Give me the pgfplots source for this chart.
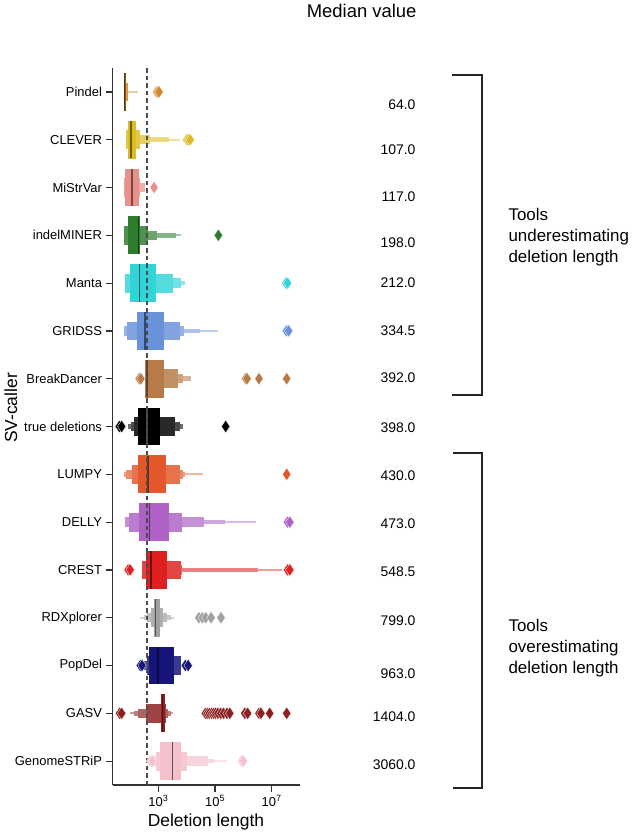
\documentclass[border=0pt]{standalone}
\usepackage{pgfplots}
\pgfplotsset{compat=1.18}
\usepackage{fontspec}
\setmainfont{Liberation Sans}

\definecolor{cPin}{HTML}{D4862A}
\definecolor{cCle}{HTML}{DDBB22}
\definecolor{cMiS}{HTML}{E8918A}
\definecolor{cInd}{HTML}{2E7D2E}
\definecolor{cMan}{HTML}{33D4D8}
\definecolor{cGri}{HTML}{6A92DA}
\definecolor{cBre}{HTML}{B87B48}
\definecolor{cTru}{HTML}{000000}
\definecolor{cLum}{HTML}{E2582A}
\definecolor{cDel}{HTML}{AE62C6}
\definecolor{cCre}{HTML}{DE2020}
\definecolor{cRdx}{HTML}{A0A0A0}
\definecolor{cPop}{HTML}{15157A}
\definecolor{cGas}{HTML}{8C2020}
\definecolor{cGen}{HTML}{F4C0CB}

% letter-value boxes: row, low, high, colour
\newcommand{\LA}[4]{\addplot[line cap=butt,line width=37.7bp,color=#4] coordinates {(#2,#1) (#3,#1)};}
\newcommand{\LB}[4]{\addplot[line cap=butt,line width=18.8bp,color=#4!84!white] coordinates {(#2,#1) (#3,#1)};}
\newcommand{\LC}[4]{\addplot[line cap=butt,line width=9.4bp,color=#4!70!white] coordinates {(#2,#1) (#3,#1)};}
\newcommand{\LD}[4]{\addplot[line cap=butt,line width=4.7bp,color=#4!57!white] coordinates {(#2,#1) (#3,#1)};}
\newcommand{\LE}[4]{\addplot[line cap=butt,line width=2.3bp,color=#4!44!white] coordinates {(#2,#1) (#3,#1)};}
% median line: value, y1, y2, colour
\newcommand{\MD}[4]{\addplot[line width=1.3bp,color=#4] coordinates {(#1,#2) (#1,#3)};}
% outliers: colour, coordinates
\newcommand{\OL}[2]{\addplot[only marks,mark=diamond*,mark size=6.3bp,mark options={xscale=0.9,fill=#1,draw=white,line width=0.3bp}] coordinates {#2};}

\begin{document}
\begin{tikzpicture}
\path (0bp,0bp) rectangle (633bp,839bp);
\begin{axis}[
  at={(112.5bp,54bp)}, anchor=south west, scale only axis,
  width=187.5bp, height=717bp,
  xmode=log, xmin=23.8, xmax=1e8,
  ymin=-0.5, ymax=14.5, y dir=reverse,
  axis lines*=left,
  axis line style={line width=1.5bp,color=black!80},
  xtick={1e3,1e5,1e7},
  xticklabels={10\textsuperscript{3},10\textsuperscript{5},10\textsuperscript{7}},
  xminorticks=false,
  ytick={0,...,14},
  yticklabels={Pindel,CLEVER,MiStrVar,indelMINER,Manta,GRIDSS,BreakDancer,true deletions,LUMPY,DELLY,CREST,RDXplorer,PopDel,GASV,GenomeSTRiP},
  tick align=outside, major tick length=7bp,
  tick style={line width=1.2bp,color=black!80},
  yticklabel style={font=\fontsize{13}{15}\selectfont},
  xticklabel style={font=\fontsize{13}{15}\selectfont},
  clip=false,
]
% Pindel
\LE{0}{58.9}{195}{cPin}
\LB{0}{58.9}{85.1}{cPin}
\LA{0}{58.9}{69.2}{cPin!65!black}
% CLEVER
\LE{1}{69.2}{5754}{cCle}
\LD{1}{69.2}{2344}{cCle}
\LC{1}{69.2}{513}{cCle}
\LB{1}{70.8}{214}{cCle}
\LA{1}{85.1}{155}{cCle}
% MiStrVar
\LC{2}{58.9}{339}{cMiS}
\LB{2}{58.9}{229}{cMiS}
\LA{2}{67.6}{200}{cMiS}
% indelMINER
\LE{3}{63.1}{6310}{cInd}
\LD{3}{63.1}{4169}{cInd}
\LC{3}{63.1}{871}{cInd}
\LB{3}{63.1}{417}{cInd}
\LA{3}{87.1}{225}{cInd}
% Manta
\LD{4}{66.1}{8710}{cMan}
\LC{4}{66.1}{6310}{cMan}
\LB{4}{66.1}{3388}{cMan}
\LA{4}{100}{805}{cMan}
% GRIDSS
\LE{5}{61.7}{1.23e5}{cGri}
\LD{5}{61.7}{29510}{cGri}
\LC{5}{61.7}{7834}{cGri}
\LB{5}{80.5}{5808}{cGri}
\LA{5}{172}{1622}{cGri}
% BreakDancer
\LD{6}{339}{14130}{cBre}
\LC{6}{339}{7079}{cBre}
\LB{6}{339}{5070}{cBre}
\LA{6}{339}{1549}{cBre}
% true deletions
\LD{7}{83.2}{7413}{cTru}
\LC{7}{107}{5754}{cTru}
\LB{7}{142}{3890}{cTru}
\LA{7}{197}{1148}{cTru}
% LUMPY
\LE{8}{58.9}{38900}{cLum}
\LD{8}{58.9}{8913}{cLum}
\LC{8}{72.4}{7244}{cLum}
\LB{8}{115}{5754}{cLum}
\LA{8}{197}{1820}{cLum}
% DELLY
\LE{9}{66.1}{2.69e6}{cDel}
\LD{9}{66.1}{2.24e5}{cDel}
\LC{9}{66.1}{41690}{cDel}
\LB{9}{92.3}{6607}{cDel}
\LA{9}{208}{2377}{cDel}
% CREST
\LE{10}{257}{2.24e7}{cCre}
\LD{10}{257}{3.16e6}{cCre}
\LC{10}{257}{6761}{cCre}
\LB{10}{257}{6310}{cCre}
\LA{10}{357}{2023}{cCre}
% RDXplorer
\LE{11}{214}{3631}{cRdx}
\LD{11}{316}{2692}{cRdx}
\LC{11}{407}{1950}{cRdx}
\LB{11}{550}{1500}{cRdx}
\LA{11}{684}{1148}{cRdx}
% PopDel
\LC{12}{316}{6310}{cPop}
\LB{12}{389}{6166}{cPop}
\LA{12}{482}{3467}{cPop}
% GASV
\LE{13}{100}{3388}{cGas}
\LD{13}{141}{2818}{cGas}
\LC{13}{197}{2239}{cGas}
\LB{13}{357}{1862}{cGas}
\LA{13}{1202}{1718}{cGas}
% GenomeSTRiP
\LE{14}{708}{2.57e5}{cGen}
\LD{14}{708}{93330}{cGen}
\LC{14}{708}{54950}{cGen}
\LB{14}{794}{10000}{cGen}
\LA{14}{1148}{6310}{cGen}
% medians
\MD{64}{-0.39}{0.39}{cPin!40!black}
\MD{107}{0.61}{1.39}{cCle!50!black}
\MD{117}{1.61}{2.39}{cMiS!50!black}
\MD{198}{2.61}{3.39}{cInd!50!black}
\MD{212}{3.61}{4.39}{cMan!45!black}
\MD{334.5}{4.61}{5.39}{cGri!50!black}
\MD{392}{5.61}{6.39}{cBre!50!black}
\MD{398}{6.61}{7.39}{black!75!white}
\MD{430}{7.61}{8.39}{cLum!50!black}
\MD{473}{8.61}{9.39}{cDel!50!black}
\MD{548.5}{9.61}{10.39}{cCre!50!black}
\MD{799}{10.61}{11.39}{cRdx!50!black}
\MD{963}{11.61}{12.39}{cPop!50!black}
\MD{1404}{12.61}{13.39}{cGas!60!black}
\MD{3060}{13.61}{14.39}{cGen!40!black}
% outliers
\OL{cPin}{(851,0) (933,0) (1047,0)}
\OL{cCle}{(10000,1) (11220,1) (13180,1)}
\OL{cMiS}{(700,2)}
\OL{cInd}{(1.31e5,3)}
\OL{cMan}{(3.16e7,4) (3.63e7,4)}
\OL{cGri}{(3.31e7,5) (3.98e7,5)}
\OL{cBre}{(209,6) (240,6) (1.2e6,6) (1.35e6,6) (3.55e6,6) (3.39e7,6)}
\OL{cTru}{(41.7,7) (50.1,7) (2.37e5,7)}
\OL{cLum}{(3.39e7,8)}
\OL{cDel}{(3.63e7,9) (4.37e7,9)}
\OL{cCre}{(85.1,10) (100,10) (3.63e7,10) (4.37e7,10)}
\OL{cRdx}{(26920,11) (35480,11) (46770,11) (72440,11) (1.62e5,11)}
\OL{cPop}{(229,12) (263,12) (8913,12) (11220,12)}
\OL{cGas}{(42.7,13) (50.1,13) (45710,13) (53700,13) (63100,13) (75860,13) (89130,13) (104700,13) (125900,13) (158500,13) (199500,13) (263000,13) (331100,13) (1.12e6,13) (1.41e6,13) (3.55e6,13) (4.17e6,13) (8.51e6,13) (3.39e7,13)}
\OL{cGen}{(525,14) (603,14) (8.71e5,14) (1e6,14)}
% reference line: median of true deletions
\addplot[line width=1.3bp,color=black!70,dash pattern=on 4.5bp off 3bp] coordinates {(398,-0.5) (398,14.5)};
\end{axis}
% axis titles
\node[font=\fontsize{17.5}{20}\selectfont] at (206bp,17bp) {Deletion length};
\node[font=\fontsize{17.5}{20}\selectfont,rotate=90] at (11bp,431bp) {SV-caller};
\node[font=\fontsize{18.5}{22}\selectfont,anchor=east] at (420bp,828bp) {Median value};
% median values
\begin{scope}[every node/.style={anchor=east,font=\fontsize{14}{16}\selectfont}]
\node at (419bp,734bp) {64.0};
\node at (419bp,689bp) {107.0};
\node at (419bp,642bp) {117.0};
\node at (419bp,596bp) {198.0};
\node at (419bp,556bp) {212.0};
\node at (419bp,508bp) {334.5};
\node at (419bp,461bp) {392.0};
\node at (419bp,411bp) {398.0};
\node at (419bp,363bp) {430.0};
\node at (419bp,315bp) {473.0};
\node at (419bp,267bp) {548.5};
\node at (419bp,218bp) {799.0};
\node at (419bp,165bp) {963.0};
\node at (419bp,122bp) {1404.0};
\node at (419bp,74bp) {3060.0};
\end{scope}
% brackets
\draw[line width=1.3bp,color=black!85] (452bp,764bp) -- (482bp,764bp) -- (482bp,444bp) -- (452bp,444bp);
\draw[line width=1.3bp,color=black!85] (453bp,386bp) -- (482bp,386bp) -- (482bp,51bp) -- (453bp,51bp);
\node[anchor=west,align=left,font=\fontsize{17}{21}\selectfont] at (505bp,602bp) {Tools\\underestimating\\deletion length};
\node[anchor=west,align=left,font=\fontsize{17}{21}\selectfont] at (505bp,191bp) {Tools\\overestimating\\deletion length};
\end{tikzpicture}
\end{document}
